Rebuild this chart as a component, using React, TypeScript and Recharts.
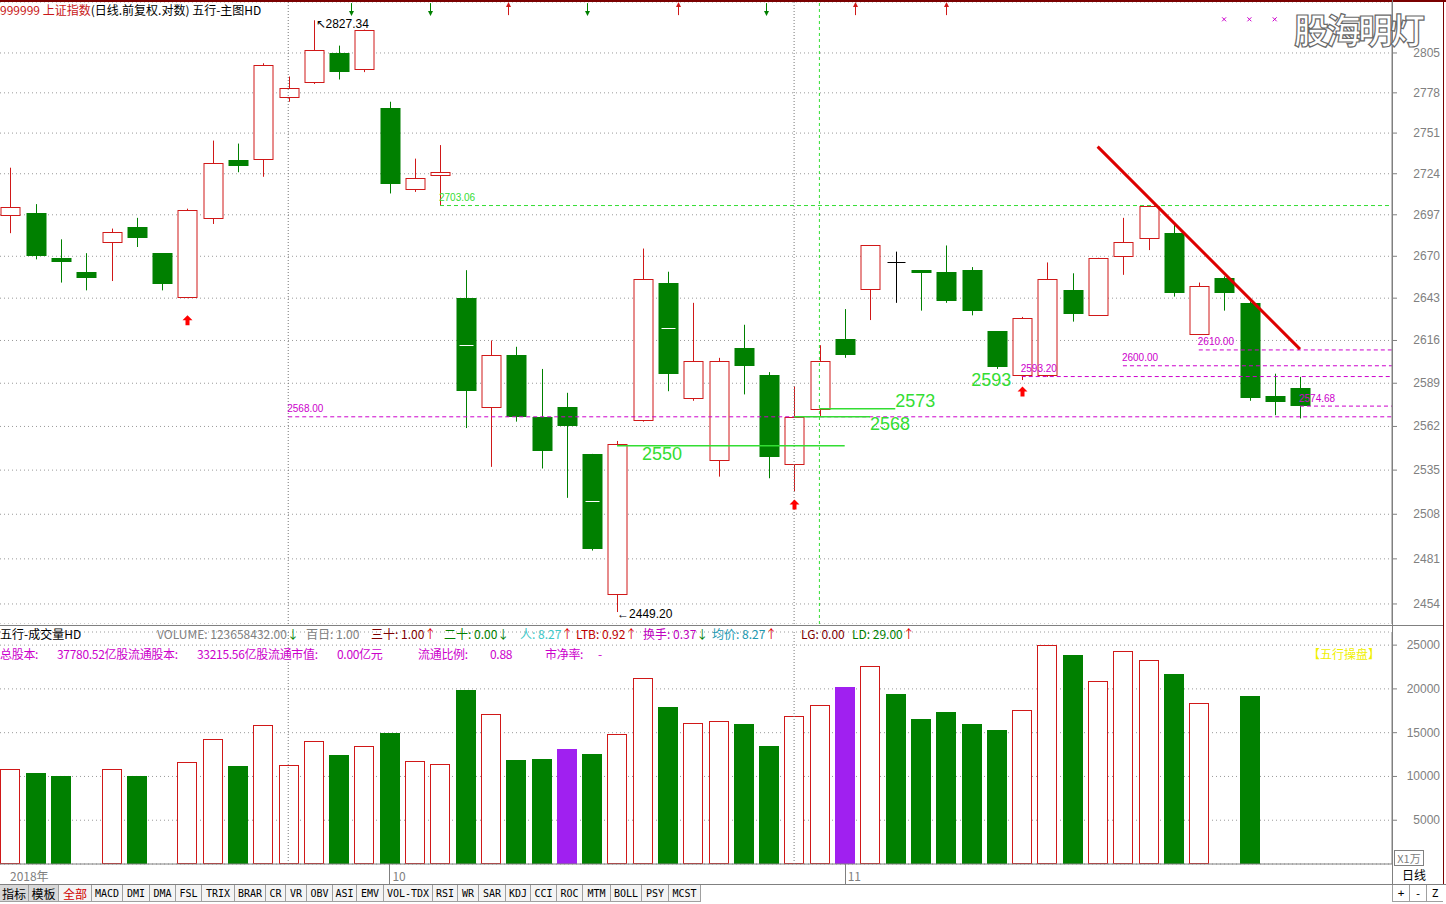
import React from "react";
import { Bar, CartesianGrid, ComposedChart, ReferenceDot, ReferenceLine, XAxis, YAxis } from "recharts";

// daily candles, oldest first
const opens = [2697, 2698, 2669, 2660, 2679, 2689, 2672, 2644, 2695, 2733, 2734, 2775, 2785, 2805, 2794, 2768, 2714, 2723, 2643, 2574, 2607, 2568, 2574, 2545, 2460, 2566, 2653, 2580, 2541, 2611, 2594, 2539, 2573, 2617, 2649, 2666, 2661, 2660, 2661, 2622, 2594, 2594, 2648, 2632, 2670, 2682, 2685, 2620, 2656, 2640, 2581, 2586];
const highs = [2728, 2704, 2681, 2672, 2688, 2695, 2672, 2701, 2746, 2744, 2798, 2789, 2827.34, 2810, 2821, 2772, 2734, 2743, 2661, 2616, 2612, 2598, 2583, 2545, 2553, 2675, 2660, 2640, 2605, 2626, 2596, 2587, 2613, 2636, 2677, 2673, 2661, 2677, 2663, 2622, 2631, 2666, 2659, 2669, 2695, 2703.06, 2691, 2653, 2657, 2641, 2595, 2593];
const lows = [2685, 2668, 2653, 2648, 2654, 2676, 2648, 2643, 2691, 2725, 2722, 2772, 2784, 2787, 2792, 2711, 2712, 2703, 2561, 2537, 2565, 2536, 2518, 2486, 2449.2, 2565, 2584, 2578, 2531, 2582, 2530, 2522, 2568, 2605, 2629, 2640, 2635, 2640, 2632, 2598, 2591, 2593, 2628, 2632, 2658, 2674, 2644, 2620, 2635, 2578, 2569, 2567];
const closes = [2702, 2670, 2666, 2656, 2686, 2682, 2652, 2700, 2731, 2729, 2797, 2781, 2807, 2792, 2821, 2717, 2721, 2725, 2584, 2607, 2568, 2547, 2562, 2487, 2551, 2655, 2595, 2603, 2603, 2600, 2543, 2568, 2603, 2607, 2677, 2666, 2660, 2641, 2635, 2599, 2630, 2655, 2633, 2669, 2679, 2703, 2646, 2651, 2646, 2580, 2577, 2574.68];

// volume (x1万), null = no bar drawn; kind u = hollow red, d = green, p = purple
const volumes = [10800, 10400, 10050, null, 10800, 10050, null, 11650, 14250, 11200, 15850, 11300, 14050, 12450, 13450, 14950, 11750, 11400, 19850, 17100, 11850, 12000, 13100, 12550, 14850, 21200, 17900, 16100, 16350, 16000, 13450, 16900, 18150, 20200, 22600, 19400, 16550, 17350, 16000, 15300, 17600, 25000, 23850, 20900, 24300, 23300, 21700, 18400, null, 19200, null, null];
const volumeKinds = ["u", "d", "d", "-", "u", "d", "-", "u", "u", "d", "u", "u", "u", "d", "u", "d", "u", "u", "d", "u", "d", "d", "p", "d", "u", "u", "d", "u", "u", "d", "d", "u", "u", "p", "u", "d", "d", "d", "d", "d", "u", "u", "d", "u", "u", "u", "d", "u", "-", "d", "-", "-"];

const priceTicks = [2454, 2481, 2508, 2535, 2562, 2589, 2616, 2643, 2670, 2697, 2724, 2751, 2778, 2805];
const volumeTicks = [5000, 10000, 15000, 20000, 25000];
const dateTickIdx = [0, 15, 33];
const dateTickLabels = ["2018年", "10", "11"];

const buySignalIdx = [7, 31, 40];
const buySignalLevel = [2632, 2517, 2587];
const midMarkIdx = [18, 23, 26];
const topDownIdx = [13.5, 16.6, 22.8, 29.9];
const topUpIdx = [19.7, 26.4, 33.4, 37.0];
const crossIdx = [48, 49, 50, 51];

const levelValues = [2703.06, 2568.0, 2610.0, 2600.0, 2593.2, 2574.68];
const levelStart = [17, 11, 47, 44, 40, 51];
const levelLabels = ["2703.06", "2568.00", "2610.00", "2600.00", "2593.20", "2574.68"];

const supportValues = [2550, 2573, 2568];
const supportFrom = [24, 32, 31];
const supportTo = [33, 35, 34];
const supportLabels = ["2550", "2573", "2568"];

const trendX = [43, 51];
const trendY = [2742, 2610.5];

const rows = opens.map((o, i) => ({ i, o, h: highs[i], l: lows[i], c: closes[i], v: volumes[i], vk: volumeKinds[i] }));

const X_MIN = -0.3953;
const X_MAX = 54.638;
const RED = "#d01818";
const GREEN = "#008000";
const LIME = "#33dd33";
const MAGENTA = "#cc00cc";
const PURPLE = "#a020f0";
const GRAY = "#808080";
const ARIAL = "'Liberation Sans', Arial, sans-serif";
const CJK = "'Noto Sans CJK SC', sans-serif";

function Candle(props: any) {
  const { x, y, width, height, payload } = props;
  if (x == null || !payload) return null;
  const { o, h, l, c, i } = payload;
  const lh = Math.log(h);
  const ll = Math.log(l);
  const py = (v: number) => (lh === ll ? y : y + ((lh - Math.log(v)) / (lh - ll)) * height);
  const cx = Math.round(x + width / 2) + 0.5;
  const top = py(Math.max(o, c));
  const bot = py(Math.min(o, c));
  if (o === c) {
    return (
      <g>
        <line x1={cx} x2={cx} y1={py(h)} y2={py(l)} stroke="#000" />
        <line x1={cx - 9} x2={cx + 9} y1={Math.round(top) + 0.5} y2={Math.round(top) + 0.5} stroke="#000" />
      </g>
    );
  }
  const up = c > o;
  const col = up ? RED : GREEN;
  const t = Math.round(top);
  const b = Math.round(bot);
  return (
    <g>
      <line x1={cx} x2={cx} y1={py(h)} y2={py(l)} stroke={col} />
      {up ? (
        <rect x={cx - 9.5} y={t + 0.5} width={19} height={Math.max(1, b - t)} fill="#fff" stroke={col} />
      ) : (
        <rect x={cx - 10} y={t} width={20} height={Math.max(3, b - t)} fill={col} />
      )}
      {midMarkIdx.includes(i) && <line x1={cx - 7} x2={cx + 7} y1={Math.round((top + bot) / 2) + 0.5} y2={Math.round((top + bot) / 2) + 0.5} stroke="#fff" />}
    </g>
  );
}

function VolBar(props: any) {
  const { x, y, width, height, payload } = props;
  if (!payload || payload.v == null || x == null) return null;
  const left = Math.round(x + width / 2) - 10;
  const t = Math.round(y);
  const b = Math.round(y + height);
  if (payload.vk === "u") return <rect x={left + 0.5} y={t + 0.5} width={19} height={b - t - 1} fill="#fff" stroke={RED} />;
  return <rect x={left} y={t} width={20} height={b - t} fill={payload.vk === "p" ? PURPLE : GREEN} />;
}

const AxisTick = (p: any) => (
  <text x={p.x + 40} y={p.y} textAnchor="end" dominantBaseline="central" fill={GRAY} fontSize={12} fontFamily={ARIAL}>
    {p.payload.value}
  </text>
);

const DateTick = (p: any) => {
  const k = dateTickIdx.indexOf(p.payload.value);
  return (
    <g>
      {k > 0 && <line x1={Math.round(p.x) + 0.5} x2={Math.round(p.x) + 0.5} y1={p.y} y2={p.y + 20} stroke={GRAY} />}
      <text x={p.x + (k > 0 ? 3 : 0)} y={p.y + 11} dominantBaseline="central" fill={GRAY} fontSize={12} fontFamily={CJK}>
        {dateTickLabels[k]}
      </text>
    </g>
  );
};

const textShape = (text: string, dx: number, dy: number, fill: string, size: number, font = ARIAL) => (p: any) => (
  <text x={p.cx + dx} y={p.cy + dy} dominantBaseline="central" fill={fill} fontSize={size} fontFamily={font}>
    {text}
  </text>
);

const signalShape = (up: boolean) => (p: any) => {
  const col = up ? RED : GREEN;
  const cx = Math.round(p.cx) + 0.5;
  const cy = p.cy;
  return (
    <g>
      <line x1={cx} x2={cx} y1={cy - 6} y2={cy + 6} stroke={col} />
      {up ? (
        <path d={`M${cx - 2.5},${cy - 2} L${cx},${cy - 7} L${cx + 2.5},${cy - 2} Z`} fill={col} />
      ) : (
        <path d={`M${cx - 2.5},${cy + 2} L${cx},${cy + 7} L${cx + 2.5},${cy + 2} Z`} fill={col} />
      )}
    </g>
  );
};

const buyShape = (p: any) => {
  const cx = Math.round(p.cx) + 0.5;
  const cy = p.cy;
  return <path d={`M${cx},${cy} L${cx + 5},${cy + 5} L${cx + 2},${cy + 5} L${cx + 2},${cy + 10} L${cx - 2},${cy + 10} L${cx - 2},${cy + 5} L${cx - 5},${cy + 5} Z`} fill="#ff0000" />;
};

const crossShape = (p: any) => (
  <g stroke={MAGENTA}>
    <line x1={p.cx - 2} x2={p.cx + 2} y1={p.cy - 2} y2={p.cy + 2} />
    <line x1={p.cx - 2} x2={p.cx + 2} y1={p.cy + 2} y2={p.cy - 2} />
  </g>
);

const volHeader1 = [
  { left: 0, parts: [["五行-成交量HD", "#000"]] },
  { left: 157, parts: [["VOLUME: 123658432.00", GRAY], ["↓", GREEN]] },
  { left: 306, parts: [["百日: 1.00", GRAY]] },
  { left: 371, parts: [["三十: 1.00", "#800000"], ["↑", "#e00000"]] },
  { left: 444, parts: [["二十: 0.00", GREEN], ["↓", GREEN]] },
  { left: 520, parts: [["人: 8.27", "#40c8c8"], ["↑", "#e00000"]] },
  { left: 576, parts: [["LTB: 0.92", "#c00000"], ["↑", "#e00000"]] },
  { left: 643, parts: [["换手: 0.37", "#c000c0"], ["↓", GREEN]] },
  { left: 712, parts: [["均价: 8.27", "#2098b0"], ["↑", "#e00000"]] },
  { left: 801, parts: [["LG: 0.00", "#800000"]] },
  { left: 852, parts: [["LD: 29.00", GREEN], ["↑", "#e00000"]] },
];

const volHeader2 = [
  { left: 0, text: "总股本:" },
  { left: 57, text: "37780.52亿股流通股本:" },
  { left: 197, text: "33215.56亿股流通市值:" },
  { left: 337, text: "0.00亿元" },
  { left: 418, text: "流通比例:" },
  { left: 490, text: "0.88" },
  { left: 545, text: "市净率:" },
  { left: 598, text: "-" },
];

const toolButtons = ["指标", "模板", "全部", "MACD", "DMI", "DMA", "FSL", "TRIX", "BRAR", "CR", "VR", "OBV", "ASI", "EMV", "VOL-TDX", "RSI", "WR", "SAR", "KDJ", "CCI", "ROC", "MTM", "BOLL", "PSY", "MCST"];
const toolWidths = [29, 30, 33, 31, 27, 26, 26, 33, 31, 20, 21, 26, 24, 27, 49, 25, 21, 27, 25, 26, 26, 28, 31, 27, 32];

export default function App() {
  return (
    <div style={{ position: "absolute", left: 0, top: 0, width: 1446, height: 904, background: "#fff", overflow: "hidden", fontFamily: CJK }}>
      <div style={{ position: "absolute", left: 0, top: 0 }}>
        <ComposedChart width={1443} height={624} data={rows} margin={{ top: 2, right: 0, bottom: 0, left: 0 }}>
          <CartesianGrid vertical={false} stroke="#9a9a9a" strokeDasharray="1 3" />
          <XAxis dataKey="i" type="number" domain={[X_MIN, X_MAX]} allowDataOverflow hide />
          <YAxis
            orientation="right"
            type="number"
            scale="log"
            domain={[2442.1, 2839.9]}
            allowDataOverflow
            ticks={priceTicks}
            interval={0}
            width={51}
            tickSize={5}
            tickMargin={3}
            stroke={GRAY}
            tick={<AxisTick />}
          />
          <ReferenceLine x={11} stroke="#777" strokeDasharray="1 2" />
          <ReferenceLine x={31} stroke="#777" strokeDasharray="1 2" />
          <ReferenceLine x={32} stroke={LIME} strokeDasharray="3 3" />
          {levelValues.map((v, k) => (
            <ReferenceLine key={`lv${k}`} segment={[{ x: levelStart[k], y: v }, { x: X_MAX, y: v }]} stroke={k === 0 ? LIME : MAGENTA} strokeDasharray="4 3" />
          ))}
          {supportValues.map((v, k) => (
            <ReferenceLine key={`sp${k}`} segment={[{ x: supportFrom[k], y: v }, { x: supportTo[k], y: v }]} stroke={LIME} strokeWidth={1.5} />
          ))}
          <ReferenceLine segment={[{ x: trendX[0], y: trendY[0] }, { x: trendX[1], y: trendY[1] }]} stroke="#dd0000" strokeWidth={3} />
          <Bar dataKey={(d: any) => [d.l, d.h]} barSize={20} shape={<Candle />} isAnimationActive={false} />
          {levelValues.map((v, k) => (
            <ReferenceDot key={`ll${k}`} x={levelStart[k]} y={v} r={0} shape={textShape(levelLabels[k], -1, -8, k === 0 ? LIME : MAGENTA, 10)} />
          ))}
          <ReferenceDot x={supportFrom[0]} y={supportValues[0]} r={0} shape={textShape(supportLabels[0], 25, 8, LIME, 18)} />
          <ReferenceDot x={supportTo[1]} y={supportValues[1]} r={0} shape={textShape(supportLabels[1], 0, -8, LIME, 18)} />
          <ReferenceDot x={supportTo[2]} y={supportValues[2]} r={0} shape={textShape(supportLabels[2], 0, 7, LIME, 18)} />
          <ReferenceDot x={38} y={2593} r={0} shape={textShape("2593", 0, 3, LIME, 18)} />
          <ReferenceDot x={24} y={lows[24]} r={0} shape={textShape("←2449.20", 0, 2, "#000", 12)} />
          <ReferenceDot x={12} y={highs[12]} r={0} shape={textShape("↖2827.34", 2, 4, "#000", 12)} />
          {buySignalIdx.map((idx, k) => (
            <ReferenceDot key={`bs${k}`} x={idx} y={buySignalLevel[k]} r={0} shape={buyShape} />
          ))}
          {topDownIdx.map((idx, k) => (
            <ReferenceDot key={`td${k}`} x={idx} y={2835} r={0} shape={signalShape(false)} />
          ))}
          {topUpIdx.map((idx, k) => (
            <ReferenceDot key={`tu${k}`} x={idx} y={2835} r={0} shape={signalShape(true)} />
          ))}
          {crossIdx.map((idx, k) => (
            <ReferenceDot key={`cr${k}`} x={idx} y={2828} r={0} shape={crossShape} />
          ))}
        </ComposedChart>
      </div>

      <div style={{ position: "absolute", left: 0, top: 626 }}>
        <ComposedChart width={1443} height={258} data={rows} margin={{ top: 6, right: 0, bottom: 0, left: 0 }}>
          <CartesianGrid vertical={false} stroke="#9a9a9a" strokeDasharray="1 3" />
          <XAxis
            dataKey="i"
            type="number"
            domain={[X_MIN, X_MAX]}
            allowDataOverflow
            ticks={dateTickIdx}
            interval={0}
            height={20}
            tickSize={0}
            tickMargin={0}
            stroke={GRAY}
            tick={<DateTick />}
          />
          <YAxis orientation="right" type="number" domain={[0, 26500]} allowDataOverflow ticks={volumeTicks} interval={0} width={51} tickSize={5} tickMargin={3} stroke={GRAY} tick={<AxisTick />} />
          <ReferenceLine x={11} stroke="#777" strokeDasharray="1 2" />
          <ReferenceLine x={31} stroke="#777" strokeDasharray="1 2" />
          <Bar dataKey="v" barSize={20} shape={<VolBar />} isAnimationActive={false} />
        </ComposedChart>
      </div>

      {/* frame lines */}
      <div style={{ position: "absolute", left: 0, top: 0, width: 1446, height: 2, background: "#7a0000" }} />
      <div style={{ position: "absolute", left: 1443, top: 0, width: 1, height: 884, background: "#7a0000" }} />
      <div style={{ position: "absolute", left: 1392, top: 0, width: 1, height: 884, background: GRAY }} />
      <div style={{ position: "absolute", left: 0, top: 625, width: 1443, height: 1, background: GRAY }} />
      <div style={{ position: "absolute", left: 0, top: 884, width: 1446, height: 1, background: GRAY }} />

      {/* header */}
      <div style={{ position: "absolute", left: 0, top: 2, fontSize: 12, lineHeight: "16px", whiteSpace: "nowrap" }}>
        <span style={{ color: "#c81818" }}>999999 上证指数</span>
        <span style={{ color: "#000" }}>(日线.前复权.对数) 五行-主图HD</span>
      </div>
      <div style={{ position: "absolute", left: 1294, top: 8, fontSize: 35, lineHeight: "42px", fontWeight: 700, color: "#fff", WebkitTextStroke: "1.2px #6a6a6a", letterSpacing: -3, whiteSpace: "nowrap" }}>
        股海明灯
      </div>

      {/* volume header */}
      {volHeader1.map((item, k) => (
        <div key={`h1${k}`} style={{ position: "absolute", left: item.left, top: 626, fontSize: 12, lineHeight: "15px", whiteSpace: "nowrap" }}>
          {item.parts.map((pt, j) => (
            <span key={j} style={{ color: pt[1] }}>
              {pt[0]}
            </span>
          ))}
        </div>
      ))}
      {volHeader2.map((item, k) => (
        <div key={`h2${k}`} style={{ position: "absolute", left: item.left, top: 646, fontSize: 12, lineHeight: "15px", whiteSpace: "nowrap", color: MAGENTA, letterSpacing: -0.3 }}>
          {item.text}
        </div>
      ))}
      <div style={{ position: "absolute", left: 1308, top: 646, fontSize: 12, lineHeight: "15px", color: "#f0f000", whiteSpace: "nowrap" }}>【五行操盘】</div>

      {/* right column labels */}
      <div style={{ position: "absolute", left: 1394, top: 850, width: 28, height: 14, border: `1px solid ${GRAY}`, color: GRAY, fontSize: 11, lineHeight: "14px", textAlign: "center" }}>X1万</div>
      <div style={{ position: "absolute", left: 1402, top: 867, fontSize: 12, lineHeight: "16px", color: "#000" }}>日线</div>

      {/* toolbar */}
      <div style={{ position: "absolute", left: 0, top: 885, height: 18, display: "flex" }}>
        {toolButtons.map((b, k) => (
          <div
            key={b}
            style={{
              width: toolWidths[k],
              height: 17,
              boxSizing: "border-box",
              borderRight: "1px solid #a0a0a0",
              borderBottom: "1px solid #a0a0a0",
              background: k < 2 ? "#d8d8d8" : "#f4f4f4",
              color: k === 2 ? "#d00000" : "#000",
              fontSize: k < 3 ? 12 : 10,
              fontFamily: k < 3 ? CJK : "'DejaVu Sans Mono', monospace",
              lineHeight: "17px",
              textAlign: "center",
              whiteSpace: "nowrap",
            }}
          >
            {b}
          </div>
        ))}
      </div>
      <div style={{ position: "absolute", left: 1392, top: 885, height: 18, display: "flex" }}>
        {["+", "-", "Z"].map((b) => (
          <div key={b} style={{ width: 17, height: 17, boxSizing: "border-box", borderLeft: "1px solid #a0a0a0", borderBottom: "1px solid #a0a0a0", fontSize: 11, lineHeight: "17px", textAlign: "center", fontFamily: "'DejaVu Sans Mono', monospace" }}>
            {b}
          </div>
        ))}
      </div>
    </div>
  );
}
